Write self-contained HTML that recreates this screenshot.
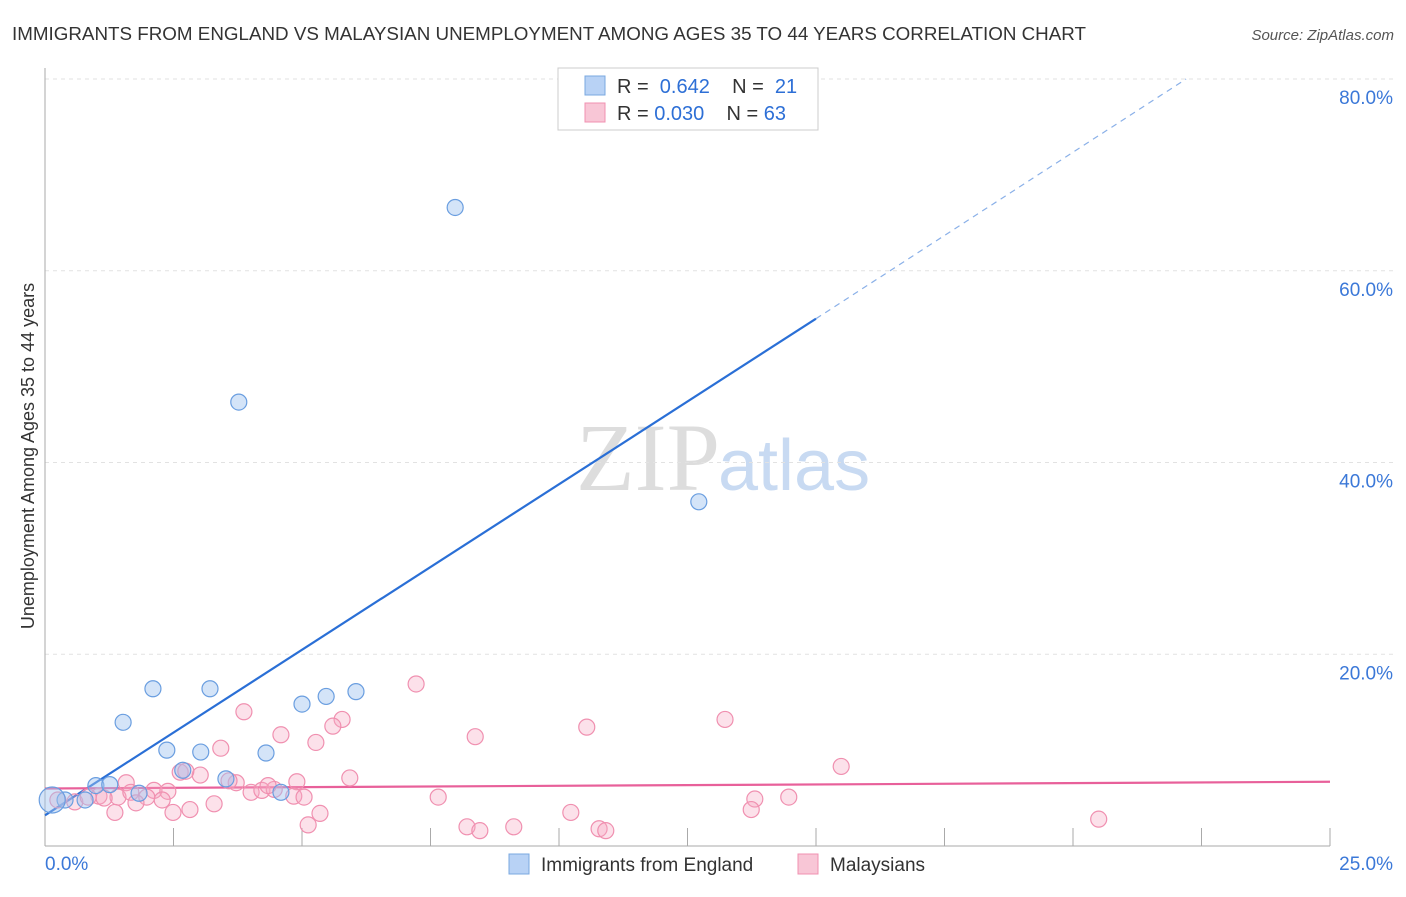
<!DOCTYPE html>
<html><head><meta charset="utf-8"><style>
body{margin:0;background:#fff;font-family:"Liberation Sans",sans-serif;}
</style></head><body>
<svg width="1406" height="892" xmlns="http://www.w3.org/2000/svg" style="font-family:'Liberation Sans',sans-serif">
<text x="12" y="40" font-size="18" fill="#333" textLength="1074" lengthAdjust="spacingAndGlyphs">IMMIGRANTS FROM ENGLAND VS MALAYSIAN UNEMPLOYMENT AMONG AGES 35 TO 44 YEARS CORRELATION CHART</text>
<text x="1394" y="40" font-size="15" fill="#555" text-anchor="end" font-style="italic">Source: ZipAtlas.com</text>
<text x="720" y="490" font-size="96" fill="#ddd" text-anchor="end" font-family="Liberation Serif">ZIP</text>
<text x="718" y="490" font-size="72" fill="#c8daf2">atlas</text>
<g id="grid"></g>
<g id="axes"></g>
<text transform="translate(34,456) rotate(-90)" font-size="18" fill="#333" text-anchor="middle">Unemployment Among Ages 35 to 44 years</text>
<g id="lines"></g>
<g id="points"></g>
<g>
<rect x="558" y="68" width="260" height="62" fill="#fff" stroke="#ccc"/>
<rect x="585" y="76" width="20" height="19" fill="#b8d2f5" stroke="#7aa8e0"/>
<text x="617" y="93" font-size="20" fill="#333">R =&#160; <tspan fill="#2d6fd6">0.642</tspan>&#160;&#160;&#160; N =&#160; <tspan fill="#2d6fd6">21</tspan></text>
<rect x="585" y="103" width="20" height="19" fill="#f8c6d6" stroke="#f090b0"/>
<text x="617" y="120" font-size="20" fill="#333">R = <tspan fill="#2d6fd6">0.030</tspan>&#160;&#160;&#160; N = <tspan fill="#2d6fd6">63</tspan></text>
</g>
<g>
<rect x="509" y="854" width="20" height="20" fill="#b8d2f5" stroke="#7aa8e0"/>
<text x="541" y="871" font-size="19" fill="#333">Immigrants from England</text>
<rect x="798" y="854" width="20" height="20" fill="#f8c6d6" stroke="#f090b0"/>
<text x="830" y="871" font-size="19" fill="#333">Malaysians</text>
</g>
</svg>
<script>
const yTicks=[20,40,60,80];
const xTickVals=[0,2.5,5,7.5,10,12.5,15,17.5,20,22.5,25];
const blueX=[7.98,3.77,12.72,2.10,3.21,6.05,5.47,5.0,1.52,2.37,3.03,4.30,2.68,3.52,0.99,1.26,1.83,4.59,0.39,0.78,0.14];
const blueY=[66.6,46.3,35.9,16.4,16.4,16.1,15.6,14.8,12.9,10.0,9.8,9.7,7.9,7.0,6.3,6.4,5.5,5.6,4.8,4.8,4.8];
const pinkX=[7.22,13.23,10.54,8.37,3.87,5.78,5.60,4.59,5.27,3.42,15.49,2.63,3.02,5.93,3.72,4.90,1.58,2.12,2.39,4.01,4.22,4.46,4.84,5.04,1.05,1.42,1.67,1.98,2.28,1.77,3.29,7.65,13.81,14.47,1.36,2.49,2.82,13.74,10.23,5.35,5.12,8.21,8.46,9.12,10.78,10.91,20.5,0.25,0.58,0.84,1.15,3.58,4.34,2.74];
const pinkY=[16.9,13.2,12.4,11.4,14.0,13.2,12.5,11.6,10.8,10.2,8.3,7.7,7.4,7.1,6.6,6.7,6.6,5.8,5.7,5.6,5.8,5.9,5.2,5.1,5.2,5.1,5.6,5.1,4.8,4.5,4.4,5.1,4.9,5.1,3.5,3.5,3.8,3.8,3.5,3.4,2.2,2.0,1.6,2.0,1.8,1.6,2.8,4.8,4.6,5.1,5.0,6.8,6.3,7.8];
const blueLine=[[0,3.2],[15,55.0]], blueDash=[[15,55.0],[22.2,80]];
const pinkLine=[[0,6.0],[25,6.7]];
const NS="http://www.w3.org/2000/svg";
const X=v=>45+v/25*1285, Y=v=>846-v/20*191.75;
function mk(t,a,p){const e=document.createElementNS(NS,t);for(const k in a)e.setAttribute(k,a[k]);p.appendChild(e);return e;}
const grid=document.getElementById('grid'),axes=document.getElementById('axes');
yTicks.forEach(t=>{
 const l=mk('line',{x1:45,x2:1395,y1:Y(t),y2:Y(t),stroke:'#e2e2e2','stroke-dasharray':'4,4'},grid);
 
 
 const tx=mk('text',{x:1393,y:Y(t)+25,'font-size':19,fill:'#3b78d8','text-anchor':'end'},axes);tx.textContent=t.toFixed(1)+'%';
 
 
});
const ax=mk('line',{x1:45,x2:1330,y1:846,y2:846,stroke:'#aaa'},axes);


const ay=mk('line',{x1:45,x2:45,y1:68,y2:846,stroke:'#aaa'},axes);


xTickVals.forEach(t=>{const l=mk('line',{x1:X(t),x2:X(t),y1:828,y2:846,stroke:'#aaa'},axes);
 
 });
[[0,'start',45],[25,'end',1393]].forEach(([v,a,x])=>{const t=mk('text',{x:x,y:870,'font-size':19,fill:'#3b78d8','text-anchor':a},axes);t.textContent=v.toFixed(1)+'%';
 
 });
const lines=document.getElementById('lines'),pts=document.getElementById('points');
pinkX.forEach((x,i)=>{const c=mk('circle',{cx:X(x),cy:Y(pinkY[i]),r:8,fill:'rgba(245,170,195,0.35)',stroke:'#f090b0','stroke-width':1.2},pts);
 
 });
blueX.forEach((x,i)=>{const c=mk('circle',{cx:X(x),cy:Y(blueY[i]),r:i==20?13:8,fill:'rgba(160,196,240,0.45)',stroke:'#6a9ee0','stroke-width':1.2},pts);
 
 });
const bl=mk('line',{x1:X(blueLine[0][0]),y1:Y(blueLine[0][1]),x2:X(blueLine[1][0]),y2:Y(blueLine[1][1]),stroke:'#2a6fd6','stroke-width':2.2},lines);


const bd=mk('line',{x1:X(blueDash[0][0]),y1:Y(blueDash[0][1]),x2:X(blueDash[1][0]),y2:Y(blueDash[1][1]),stroke:'#8ab0e8','stroke-width':1.2,'stroke-dasharray':'6,5'},lines);


const pl=mk('line',{x1:X(pinkLine[0][0]),y1:Y(pinkLine[0][1]),x2:X(pinkLine[1][0]),y2:Y(pinkLine[1][1]),stroke:'#e8609a','stroke-width':2.2},lines);


</script>
</body></html>
